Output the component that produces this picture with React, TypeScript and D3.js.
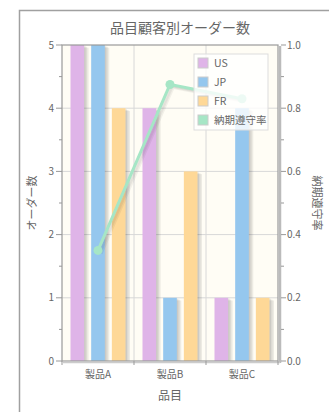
import React from "react";
import * as d3 from "d3";

const categories = ["製品A", "製品B", "製品C"];
const seriesNames = ["US", "JP", "FR"];
const usValues = [5, 4, 1];
const jpValues = [5, 1, 4];
const frValues = [4, 3, 1];
const rateValues = [0.35, 0.875, 0.83];
const leftTicks = [0, 1, 2, 3, 4, 5];
const rightTicks = [0, 0.2, 0.4, 0.6, 0.8, 1.0];

const barColors = ["#dfb4e8", "#95c7ee", "#fed897"];
const lineColor = "#a6e6c6";
const font = "'Noto Sans CJK JP', 'Noto Sans', sans-serif";

export default function App() {
  const W = 329, H = 412;
  const left = 62, right = 278, top = 45, bottom = 361;
  const x = d3.scaleBand().domain(categories).range([left, right]).paddingInner(0).paddingOuter(0);
  const y = d3.scaleLinear().domain([0, 5]).range([bottom, top]);
  const y2 = d3.scaleLinear().domain([0, 1]).range([bottom, top]);
  const inner = d3.scaleBand().domain(seriesNames).range([8.5, 72 - 8.5]).paddingInner(0.34);
  const series = [usValues, jpValues, frValues];
  const bw = inner.bandwidth();

  const linePts = categories.map((c, i) => [x(c)! + x.bandwidth() / 2, y2(rateValues[i])] as [number, number]);
  const lineGen = d3.line();
  const minorLeft = d3.range(0.5, 5, 1);
  const minorRight = d3.range(0.1, 1, 0.2);

  return (
    <svg width={W} height={H} style={{ position: "absolute", left: 0, top: 0, display: "block" }} fontFamily={font}>
      <rect x={0} y={0} width={W} height={H} fill="#fff" />
      <rect x={19.5} y={10.5} width={W + 20} height={H + 20} fill="none" stroke="#a0a0a0" strokeWidth={1.5} />
      <text x={180} y={33} textAnchor="middle" fontSize={14} fill="#666">品目顧客別オーダー数</text>

      {/* plot background */}
      <rect x={left} y={top} width={right - left} height={bottom - top} fill="#fffdf5" />
      {/* grid */}
      {leftTicks.slice(1, -1).map((t) => (
        <line key={"h" + t} x1={left} x2={right} y1={y(t)} y2={y(t)} stroke="#d8d8d8" strokeWidth={1} />
      ))}
      {categories.slice(1).map((c) => (
        <line key={"v" + c} x1={x(c)} x2={x(c)} y1={top} y2={bottom} stroke="#d8d8d8" strokeWidth={1} />
      ))}

      {/* bars */}
      {series.map((vals, si) =>
        vals.map((v, ci) => {
          const bx = x(categories[ci])! + inner(seriesNames[si])!;
          const by = y(v);
          return (
            <g key={si + "-" + ci}>
              {[1.5, 3, 4.5].map((o) => (
                <rect key={o} x={bx + o} y={by + o * 0.6} width={bw} height={bottom - by - o * 0.6} fill="#000" opacity={0.07} />
              ))}
              <rect x={bx} y={by} width={bw} height={bottom - by} fill={barColors[si]} />
            </g>
          );
        })
      )}

      {/* line */}
      {[1.5, 3, 4.5].map((o) => (
        <path key={"ls" + o} d={lineGen(linePts.map(([a, b]) => [a + o * 0.7, b + o * 0.7]))!} fill="none" stroke="#000" strokeOpacity={0.05} strokeWidth={3} />
      ))}
      <path d={lineGen(linePts)!} fill="none" stroke={lineColor} strokeWidth={3} />
      {linePts.map(([a, b], i) => (
        <circle key={"pt" + i} cx={a} cy={b} r={4.5} fill={lineColor} />
      ))}

      {/* border */}
      <rect x={left} y={top} width={right - left} height={bottom - top} fill="none" stroke="#9a9a9a" strokeWidth={1.2} />
      <line x1={right + 2} x2={right + 2} y1={top + 1} y2={bottom + 2} stroke="#bbb" strokeWidth={2.5} />
      <line x1={left + 1} x2={right + 2} y1={bottom + 1.5} y2={bottom + 1.5} stroke="#ccc" strokeWidth={1.5} />

      {/* left axis */}
      {leftTicks.map((t) => (
        <g key={"lt" + t}>
          <line x1={left - 6} x2={left} y1={y(t)} y2={y(t)} stroke="#999" />
          <text x={54} y={y(t) + 3.5} textAnchor="end" fontSize={10} fill="#666">{t}</text>
        </g>
      ))}
      {minorLeft.map((t) => (
        <line key={"lm" + t} x1={left - 3} x2={left} y1={y(t)} y2={y(t)} stroke="#999" />
      ))}
      {/* right axis */}
      {rightTicks.map((t) => (
        <g key={"rt" + t}>
          <line x1={right + 3} x2={right + 8} y1={y2(t)} y2={y2(t)} stroke="#999" />
          <text x={287} y={y2(t) + 3.5} textAnchor="start" fontSize={10} fill="#666">{t.toFixed(1)}</text>
        </g>
      ))}
      {minorRight.map((t) => (
        <line key={"rm" + t} x1={right + 3} x2={right + 6} y1={y2(t)} y2={y2(t)} stroke="#999" />
      ))}
      {/* x axis */}
      {[left, ...categories.slice(1).map((c) => x(c)!), right].map((p, i) => (
        <line key={"xt" + i} x1={p} x2={p} y1={bottom} y2={bottom + 4} stroke="#999" />
      ))}
      {categories.map((c) => (
        <text key={"xl" + c} x={x(c)! + x.bandwidth() / 2} y={378} textAnchor="middle" fontSize={10} fill="#666">{c}</text>
      ))}
      <text x={170} y={400} textAnchor="middle" fontSize={12} fill="#666">品目</text>
      <text transform={`translate(36,203) rotate(-90)`} textAnchor="middle" fontSize={11} fill="#666">オーダー数</text>
      <text transform={`translate(313,203) rotate(90)`} textAnchor="middle" fontSize={11} fill="#666">納期遵守率</text>

      {/* legend */}
      <rect x={194} y={54} width={74} height={76} fill="#fff" fillOpacity={0.8} stroke="#ddd" />
      {[...seriesNames, "納期遵守率"].map((n, i) => (
        <g key={"lg" + n}>
          <rect x={198} y={58 + i * 19} width={10} height={10} fill={i < 3 ? barColors[i] : lineColor} stroke="#ccc" />
          <text x={214} y={67 + i * 19} fontSize={10.5} fill="#666">{n}</text>
        </g>
      ))}
    </svg>
  );
}
